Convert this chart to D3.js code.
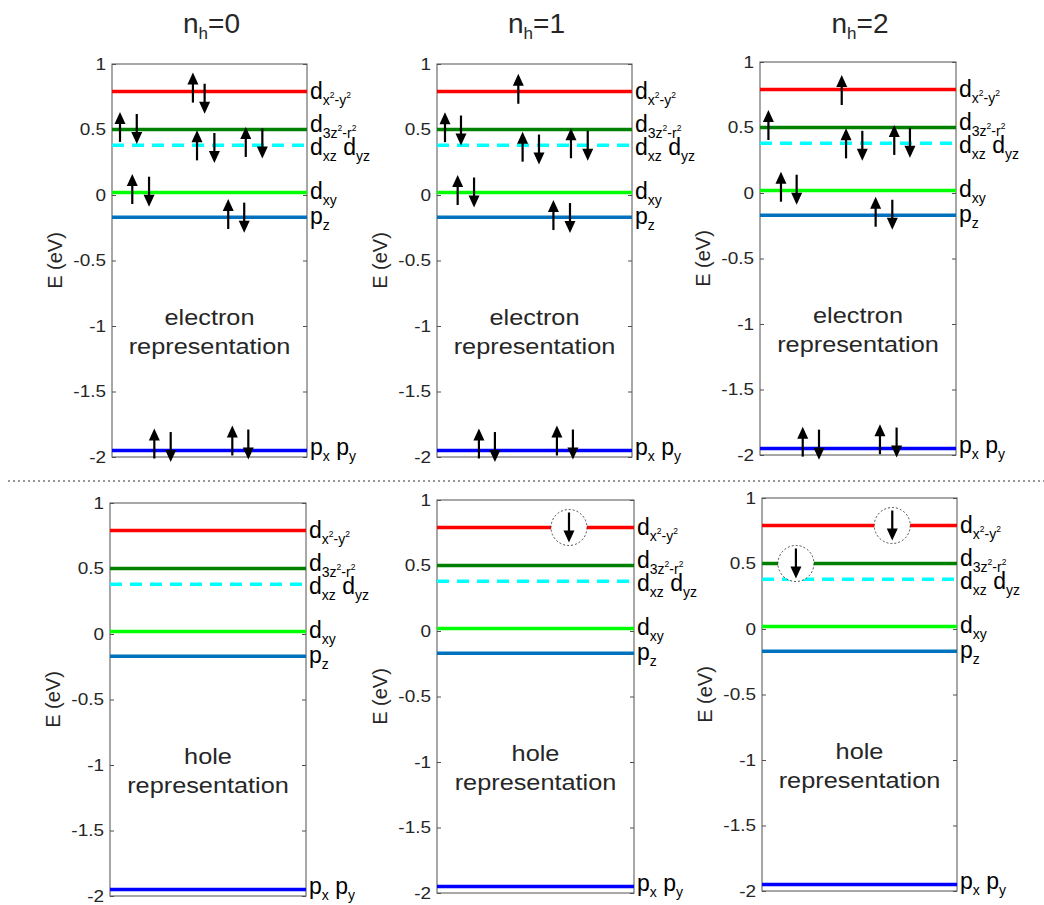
<!DOCTYPE html>
<html>
<head>
<meta charset="utf-8">
<script src="https://cdn.jsdelivr.net/npm/d3@7"></script>
<style>
  body { margin: 0; background: #fff; }
  text { font-family: "Liberation Sans", Arial, Helvetica, sans-serif; fill: #262626; }
</style>
</head>
<body>
<script>
// energy levels (eV)
var levelNames = ['dx2-y2', 'd3z2-r2', 'dxz dyz', 'dxy', 'pz', 'px py'];
var levelEnergy = [0.79, 0.50, 0.38, 0.02, -0.17, -1.95];
var levelColors = ['#ff0000', '#008000', '#00ffff', '#00ff00', '#0072bd', '#0000ff'];
var yTicks = [1, 0.5, 0, -0.5, -1, -1.5, -2];
var titles = ['0', '1', '2'];

// electron arrows: [x position in panel (0..1), energy of arrow centre, 1 = up / -1 = down]
var elecArrows0 = [
  [0.415, 0.82, 1], [0.475, 0.735, -1],
  [0.041, 0.52, 1], [0.127, 0.504, -1],
  [0.436, 0.379, 1], [0.525, 0.359, -1],
  [0.686, 0.405, 1], [0.771, 0.393, -1],
  [0.104, 0.046, 1], [0.19, 0.025, -1],
  [0.596, -0.145, 1], [0.678, -0.173, -1],
  [0.217, -1.897, 1], [0.301, -1.924, -1],
  [0.617, -1.874, 1], [0.699, -1.905, -1]
];
var elecArrows1 = [
  [0.417, 0.811, 1],
  [0.041, 0.518, 1], [0.123, 0.492, -1],
  [0.439, 0.369, 1], [0.523, 0.347, -1],
  [0.687, 0.395, 1], [0.773, 0.376, -1],
  [0.106, 0.038, 1], [0.19, 0.019, -1],
  [0.597, -0.153, 1], [0.682, -0.176, -1],
  [0.215, -1.897, 1], [0.297, -1.924, -1],
  [0.615, -1.874, 1], [0.697, -1.905, -1]
];
var elecArrows2 = [
  [0.417, 0.786, 1],
  [0.043, 0.519, 1],
  [0.439, 0.379, 1], [0.522, 0.36, -1],
  [0.685, 0.405, 1], [0.765, 0.383, -1],
  [0.107, 0.048, 1], [0.187, 0.025, -1],
  [0.59, -0.143, 1], [0.675, -0.166, -1],
  [0.218, -1.898, 1], [0.301, -1.921, -1],
  [0.612, -1.879, 1], [0.697, -1.905, -1]
];
// holes: [x position in panel, energy]
var holes0 = [];
var holes1 = [[0.67, 0.79]];
var holes2 = [[0.668, 0.79], [0.174, 0.50]];

// label pieces: m = main, s = subscript, p = superscript inside subscript
var labelParts = [
  [['d', 'm'], ['x', 's'], ['2', 'p'], ['-y', 's'], ['2', 'p']],
  [['d', 'm'], ['3z', 's'], ['2', 'p'], ['-r', 's'], ['2', 'p']],
  [['d', 'm'], ['xz', 's'], [' d', 'm'], ['yz', 's']],
  [['d', 'm'], ['xy', 's']],
  [['p', 'm'], ['z', 's']],
  [['p', 'm'], ['x', 's'], [' p', 'm'], ['y', 's']]
];
var labelDy = [7, 2, 10, 7, 7, 5];

var W = 1044, H = 905;
var panelH = 393;
var stretch = 1.15;

var panels = [
  { left: 112, right: 307, top: 64, rep: ['electron', 'representation'], arrows: elecArrows0, holes: [] },
  { left: 437, right: 632, top: 64, rep: ['electron', 'representation'], arrows: elecArrows1, holes: [] },
  { left: 760, right: 956, top: 62, rep: ['electron', 'representation'], arrows: elecArrows2, holes: [] },
  { left: 110, right: 306, top: 503, rep: ['hole', 'representation'], arrows: [], holes: holes0 },
  { left: 437, right: 634, top: 500, rep: ['hole', 'representation'], arrows: [], holes: holes1 },
  { left: 762, right: 957, top: 498, rep: ['hole', 'representation'], arrows: [], holes: holes2 }
];

var svg = d3.select('body').append('svg')
  .attr('width', W)
  .attr('height', H);

function drawArrow(g, x, yc, dir) {
  var half = 15;
  var tip = yc - dir * half;
  var tail = yc + dir * half;
  var headLen = 12, headW = 5.5;
  g.append('line')
    .attr('x1', x).attr('x2', x)
    .attr('y1', tail).attr('y2', tip + dir * (headLen - 1))
    .attr('stroke', '#000')
    .attr('stroke-width', 2.2);
  g.append('path')
    .attr('d', 'M' + x + ',' + tip + 'L' + (x - headW) + ',' + (tip + dir * headLen) + 'L' + (x + headW) + ',' + (tip + dir * headLen) + 'Z')
    .attr('fill', '#000');
}

panels.forEach(function(p, pi) {
  var g = svg.append('g');
  var x = d3.scaleLinear().domain([0, 1]).range([p.left, p.right]);
  var y = d3.scaleLinear().domain([-2, 1]).range([p.top + panelH, p.top]);

  // axes box
  g.append('rect')
    .attr('x', p.left).attr('y', p.top)
    .attr('width', p.right - p.left).attr('height', panelH)
    .attr('fill', 'none')
    .attr('stroke', '#505050')
    .attr('stroke-width', 1);

  var yAxisL = d3.axisLeft(y).tickValues(yTicks).tickSizeInner(-4).tickSizeOuter(0).tickPadding(6)
    .tickFormat(function(d) { return String(d); });
  var yAxisR = d3.axisRight(y).tickValues(yTicks).tickSizeInner(-4).tickSizeOuter(0)
    .tickFormat('');

  var gl = g.append('g').attr('transform', 'translate(' + p.left + ',0)').call(yAxisL);
  var gr = g.append('g').attr('transform', 'translate(' + p.right + ',0)').call(yAxisR);
  [gl, gr].forEach(function(a) {
    a.select('.domain').remove();
    a.selectAll('.tick line').attr('stroke', '#505050');
  });
  gl.selectAll('.tick text')
    .style('font-family', '"Liberation Sans", Arial, sans-serif')
    .style('font-size', '16.5px')
    .attr('fill', '#262626')
    .attr('x', -6 / stretch)
    .attr('transform', 'scale(' + stretch + ',1)');

  // y label
  g.append('text')
    .attr('transform', 'translate(' + (p.left - 57) + ',' + y(-0.5) + ') rotate(-90)')
    .attr('text-anchor', 'middle')
    .attr('dy', '0.35em')
    .style('font-size', '20px')
    .text('E (eV)');

  // levels
  levelEnergy.forEach(function(e, i) {
    g.append('line')
      .attr('x1', x(0)).attr('x2', x(1))
      .attr('y1', y(e)).attr('y2', y(e))
      .attr('stroke', levelColors[i])
      .attr('stroke-width', 3.5)
      .attr('stroke-dasharray', i === 2 ? '12,8' : null);

    var base = y(e) + labelDy[i];
    var t = g.append('text')
      .attr('x', p.right + 3)
      .attr('y', base)
      .attr('fill', '#000');
    labelParts[i].forEach(function(part) {
      var sz = part[1] === 'm' ? 23 : (part[1] === 's' ? 14 : 8.5);
      var off = part[1] === 'm' ? 0 : (part[1] === 's' ? 6 : -0.5);
      t.append('tspan')
        .attr('y', base + off)
        .style('font-size', sz + 'px')
        .style('fill', '#000')
        .text(part[0]);
    });
  });

  // representation text (slightly wide, as in the figure)
  [[p.rep[0], -0.99], [p.rep[1], -1.21]].forEach(function(r) {
    g.append('text')
      .attr('transform', 'translate(' + x(0.5) + ',' + y(r[1]) + ') scale(' + stretch + ',1)')
      .attr('text-anchor', 'middle')
      .style('font-size', '22px')
      .text(r[0]);
  });

  // electron arrows
  p.arrows.forEach(function(a) {
    drawArrow(g, x(a[0]), y(a[1]), a[2]);
  });

  // holes
  p.holes.forEach(function(h) {
    g.append('circle')
      .attr('cx', x(h[0])).attr('cy', y(h[1]))
      .attr('r', 18)
      .attr('fill', '#fff')
      .attr('stroke', '#222')
      .attr('stroke-width', 0.8)
      .attr('stroke-dasharray', '2,2');
    drawArrow(g, x(h[0]), y(h[1]), -1);
  });

  // titles on top row
  if (pi < 3) {
    var tt = svg.append('text')
      .attr('x', (p.left + p.right) / 2 + 2)
      .attr('y', 33)
      .attr('text-anchor', 'middle');
    tt.append('tspan').style('font-size', '28px').text('n');
    tt.append('tspan').attr('dy', 6).style('font-size', '17px').text('h');
    tt.append('tspan').attr('dy', -6).style('font-size', '28px').text('=' + titles[pi]);
  }
});

// dotted separator
svg.append('line')
  .attr('x1', 8).attr('x2', W)
  .attr('y1', 481).attr('y2', 481)
  .attr('stroke', '#333')
  .attr('stroke-width', 1)
  .attr('stroke-dasharray', '2,3');
</script>
</body>
</html>
